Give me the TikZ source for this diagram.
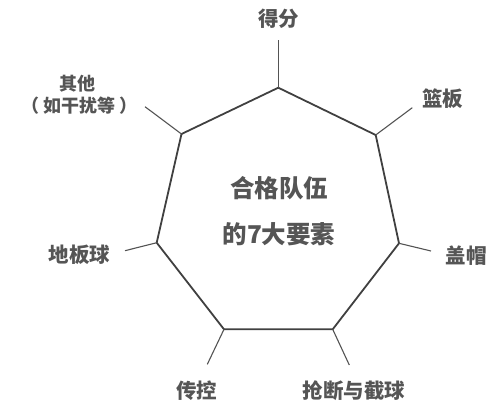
\documentclass[tikz,border=0pt]{standalone}
\usepackage{fontspec}
\newfontfamily\cjk{Noto Sans CJK SC}[BoldFont={Noto Sans CJK SC Black}]
\definecolor{edgegray}{HTML}{404040}
\definecolor{textgray}{HTML}{555555}
\tikzset{
  rim/.style={line width=1.8pt,draw=edgegray,line join=miter},
  leader/.style={line width=1.1pt,draw=edgegray!90},
  factor/.style={font=\cjk\bfseries\fontsize{20.5}{24}\selectfont,text=textgray,inner sep=0pt},
  title/.style={font=\cjk\bfseries\fontsize{24.5}{46}\selectfont,text=textgray,align=center,inner sep=0pt}
}
\begin{document}
\begin{tikzpicture}[x=1pt,y=-1pt]
        \useasboundingbox (0,0) rectangle (500,417);
        \coordinate (vtop) at (278.3,87.7);
        \coordinate (vur) at (375.7,135);
        \coordinate (vr) at (399,243.3);
        \coordinate (vlr) at (332.7,329.3);
        \coordinate (vll) at (224,329.3);
        \coordinate (vl) at (156.7,242.7);
        \coordinate (vul) at (181.5,134);
        \draw[rim] (vtop) -- (vur) -- (vr) -- (vlr) -- (vll) -- (vl) -- (vul) -- cycle;
        \coordinate (etop) at (278.3,40);
        \coordinate (eur) at (412.3,107.7);
        \coordinate (er) at (431,251);
        \coordinate (elr) at (349.3,365);
        \coordinate (ell) at (207.3,364.3);
        \coordinate (el) at (125,250.7);
        \coordinate (eul) at (145,106.7);
        \foreach \v/\e in {vtop/etop,vur/eur,vr/er,vlr/elr,vll/ell,vl/el,vul/eul}
          \draw[leader] (\v) -- (\e);
        \node[factor] (score) at (278.5,18.5) {得分};
        \node[factor] (rebound) at (442.7,98.5) {篮板};
        \node[factor] (block) at (466,256) {盖帽};
        \node[factor] (steal) at (354,391) {抢断与截球};
        \node[factor] (pass) at (196.7,391) {传控};
        \node[factor] (floor) at (79.5,255) {地板球};
        \node[factor,align=center,font=\cjk\bfseries\fontsize{18}{22.5}\selectfont] (other) at (77,95)
          {其他\\\hspace{5pt}（\hspace{4pt}如干扰等\hspace{4pt}）\hspace{5pt}};
        \node[title] (center) at (279,211) {合格队伍\\的7大要素};
\end{tikzpicture}
\end{document}
